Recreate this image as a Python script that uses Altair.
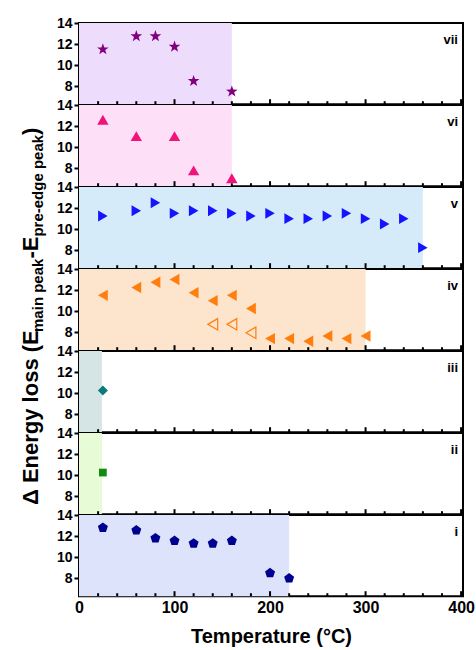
import math
import altair as alt
import pandas as pd

FONT = "Liberation Sans"
X_MAX = 402
PW, PH = 384, 81.2

# ---------------- data ----------------
panel_names = ["vii", "vi", "v", "iv", "iii", "ii", "i"]

vii_x = [25, 60, 80, 100, 120, 160]
vii_y = [11.5, 12.75, 12.75, 11.75, 8.5, 7.5]

vi_x = [25, 60, 100, 120, 160]
vi_y = [12.6, 11.05, 11.05, 7.8, 7.05]

v_x = [25, 60, 80, 100, 120, 140, 160, 180, 200, 220, 240, 260, 280, 300, 320, 340, 360]
v_y = [11.25, 11.75, 12.5, 11.5, 11.75, 11.75, 11.5, 11.25, 11.5, 11.0, 11.0, 11.25, 11.5, 11.0, 10.5, 11.0, 8.25]

iv_x = [25, 60, 80, 100, 120, 140, 160, 180, 200, 220, 240, 260, 280, 300]
iv_y = [11.5, 12.25, 12.75, 13.0, 11.75, 11.0, 11.5, 10.25, 7.4, 7.4, 7.15, 7.65, 7.4, 7.65]
iv_open_x = [140, 160, 180]
iv_open_y = [8.75, 8.75, 7.95]

iii_x = [25]
iii_y = [10.25]

ii_x = [25]
ii_y = [10.25]

i_x = [25, 60, 80, 100, 120, 140, 160, 200, 220]
i_y = [12.8, 12.55, 11.8, 11.55, 11.3, 11.3, 11.55, 8.5, 8.0]

shade_end = [160, 160, 360, 300, 24, 24, 220]

x_tick_labels = [0, 100, 200, 300, 400]
x_minor_ticks = [v for v in range(20, 401, 20) if v % 100 != 0]
x_major_ticks = [100, 200, 300, 400]
y_tick_values = [8, 10, 12, 14]

# ---------------- styles ----------------
shade_colors = ["#eedcfc", "#fde0f8", "#d6ebfa", "#fde4cc", "#d5e5e5", "#e6fbd6", "#dde3fb"]
marker_colors = ["#800080", "#f0147a", "#1414ff", "#ff7f0e", "#0b7a7a", "#108a10", "#000090"]


def poly_path(n, r_in=None):
    pts = []
    steps = n * 2 if r_in else n
    for k in range(steps):
        ang = math.radians(-90 + 360.0 / steps * k)
        r = 1.0 if (r_in is None or k % 2 == 0) else r_in
        pts.append(f"{r*math.cos(ang):.3f},{r*math.sin(ang):.3f}")
    return "M" + "L".join(pts) + "Z"


STAR = poly_path(5, 0.4)
PENTA = poly_path(5)

shapes = [STAR, "triangle-up", "triangle-right", "triangle-left", "diamond", "square", PENTA]
sizes = [150, 130, 120, 130, 100, 60, 110]

xs_all = [vii_x, vi_x, v_x, iv_x, iii_x, ii_x, i_x]
ys_all = [vii_y, vi_y, v_y, iv_y, iii_y, ii_y, i_y]

xscale = alt.Scale(domain=[0, X_MAX], nice=False, zero=False)
yscale = alt.Scale(domain=[6.3, 14], nice=False, zero=False)

yaxis = alt.Axis(values=y_tick_values, title=None, grid=False, domain=False,
                 tickSize=5, tickWidth=2, tickColor="black",
                 labelFont=FONT, labelFontSize=14, labelFontWeight="bold",
                 labelColor="black", labelPadding=2, minExtent=25, maxExtent=25)

bottom_axis = alt.Axis(values=x_tick_labels, title="Temperature (°C)", grid=False,
                       domain=False, ticks=False, labelFlush=False,
                       labelFont=FONT, labelFontSize=16, labelFontWeight="bold",
                       labelColor="black", labelPadding=3,
                       titleFont=FONT, titleFontSize=20, titleFontWeight="bold",
                       titleColor="black", titlePadding=11)


def make_panel(idx):
    name = panel_names[idx]
    bottom = idx == len(panel_names) - 1
    ax = bottom_axis if bottom else None

    def X(field):
        return alt.X(f"{field}:Q", scale=xscale, axis=ax)

    rect = alt.Chart(pd.DataFrame({"x0": [0], "x1": [shade_end[idx]]})).mark_rect(
        color=shade_colors[idx]).encode(x=X("x0"), x2="x1", y=alt.value(0), y2=alt.value(PH))

    minor = alt.Chart(pd.DataFrame({"tx": x_minor_ticks})).mark_rule(
        color="black", strokeWidth=2).encode(x=X("tx"), y=alt.value(PH), y2=alt.value(PH - 3))
    major = alt.Chart(pd.DataFrame({"tx": x_major_ticks})).mark_rule(
        color="black", strokeWidth=2).encode(x=X("tx"), y=alt.value(PH), y2=alt.value(PH - 5))

    pts = alt.Chart(pd.DataFrame({"x": xs_all[idx], "y": ys_all[idx]})).mark_point(
        shape=shapes[idx], filled=True, size=sizes[idx], color=marker_colors[idx], opacity=1
    ).encode(x=X("x"), y=alt.Y("y:Q", scale=yscale, axis=yaxis))

    layers = [rect, minor, major, pts]

    if name == "iv":
        open_pts = alt.Chart(pd.DataFrame({"x": iv_open_x, "y": iv_open_y})).mark_point(
            shape="triangle-left", filled=False, size=sizes[idx], color=marker_colors[idx],
            strokeWidth=1.2, opacity=1
        ).encode(x=X("x"), y=alt.Y("y:Q", scale=yscale, axis=yaxis))
        layers.append(open_pts)

    label = alt.Chart(pd.DataFrame({"lab": [name]})).mark_text(
        align="right", baseline="alphabetic", font=FONT, fontSize=13,
        fontWeight="bold", color="black"
    ).encode(x=alt.value(PW - 5), y=alt.value(21), text="lab:N")
    layers.append(label)

    return alt.layer(*layers).properties(width=PW, height=PH)


panels = [make_panel(i) for i in range(len(panel_names))]

# ---------------- y title with subscripts ----------------
ARIAL_BOLD = {
    "Δ": 640, " ": 278, "E": 667, "n": 611, "e": 556, "r": 389, "g": 611, "y": 556,
    "l": 278, "o": 611, "s": 556, "(": 333, ")": 333, "m": 889, "a": 556, "i": 278,
    "p": 611, "k": 556, "-": 333, "d": 611,
}
title_pieces = [("Δ Energy loss (E", 22, 0), ("main peak", 15, 5), ("-E", 22, 0),
                ("pre-edge peak", 15, 5), (")", 22, 0)]

TITLE_BASE_X = 37
cur = 482
title_layers = []
for txt, fs, shift in title_pieces:
    w = sum(ARIAL_BOLD.get(c, 556) for c in txt) / 1000.0 * fs
    title_layers.append(
        alt.Chart(pd.DataFrame({"t": [txt]})).mark_text(
            angle=270, align="left", baseline="alphabetic", font=FONT,
            fontSize=fs, fontWeight="bold", color="black"
        ).encode(x=alt.value(TITLE_BASE_X + shift), y=alt.value(cur), text="t:N")
    )
    cur -= w

ytitle = alt.layer(*title_layers).properties(
    width=51, height=PH * 7, view=alt.ViewBackground(stroke="transparent"))

chart = alt.hconcat(
    ytitle,
    alt.vconcat(*panels, spacing=0, bounds="flush"),
    spacing=0,
).properties(
    padding={"left": 0, "top": 15, "right": 0, "bottom": 0},
    background="white",
).configure_view(stroke="black", strokeWidth=2)

chart.save("out.html", embed_options={"renderer": "svg", "actions": False})
